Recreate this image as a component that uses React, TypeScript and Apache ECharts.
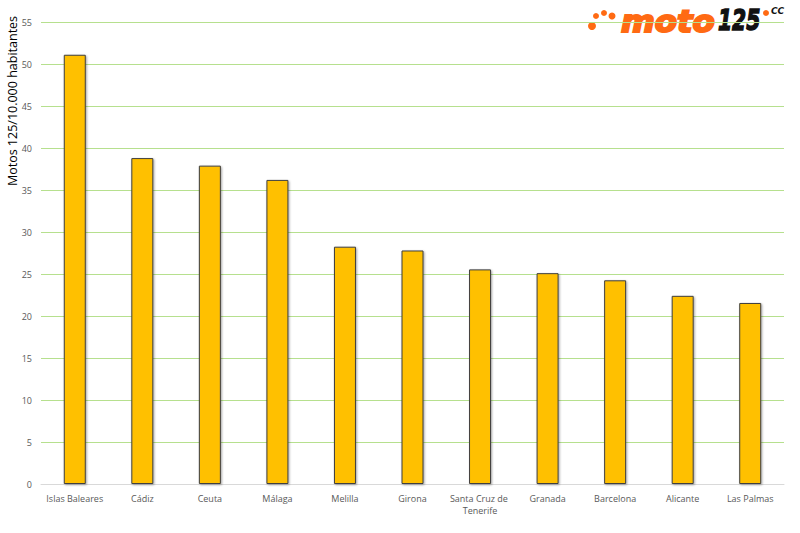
import React, { useEffect, useRef } from "react";
import * as echarts from "echarts";

const categories = [
  "Islas Baleares",
  "Cádiz",
  "Ceuta",
  "Málaga",
  "Melilla",
  "Girona",
  "Santa Cruz de Tenerife",
  "Granada",
  "Barcelona",
  "Alicante",
  "Las Palmas",
];
const values = [51.1, 38.8, 37.9, 36.2, 28.25, 27.8, 25.55, 25.1, 24.25, 22.4, 21.55];
const yTitle = "Motos 125/10.000 habitantes";

export default function App() {
  const ref = useRef<HTMLDivElement>(null);
  useEffect(() => {
    if (!ref.current) return;
    const chart = echarts.init(ref.current, null, { renderer: "svg" });
    const orange = "#FF6A13";
    chart.setOption({
      animation: false,
      backgroundColor: "#ffffff",
      grid: { left: 41, right: 16, top: 22, bottom: 49 },
      xAxis: {
        type: "category",
        data: categories,
        axisLine: { show: true, lineStyle: { color: "#d9d9d9", width: 1 } },
        axisTick: { show: false },
        axisLabel: {
          color: "#595959",
          fontSize: 9,
          fontFamily: "Open Sans",
          margin: 8,
          interval: 0,
          width: 62,
          overflow: "break",
          lineHeight: 12,
        },
      },
      yAxis: {
        type: "value",
        min: 0,
        max: 55,
        interval: 5,
        axisLine: { show: false },
        axisTick: { show: false },
        axisLabel: { color: "#595959", fontSize: 9, fontFamily: "Open Sans", margin: 9 },
        splitLine: { lineStyle: { color: "#b6e08e", width: 1 } },
      },
      series: [
        {
          type: "bar",
          data: values,
          barWidth: 22,
          itemStyle: {
            color: "#FFC000",
            borderColor: "#3f3f3f",
            borderWidth: 1,
            shadowColor: "rgba(0,0,0,0.35)",
            shadowBlur: 2,
            shadowOffsetX: 1,
            shadowOffsetY: 1,
          },
        },
      ],
      graphic: [
        {
          type: "text",
          x: 12,
          y: 101,
          rotation: Math.PI / 2,
          style: {
            text: yTitle,
            fill: "#000",
            fontSize: 12.5,
            fontFamily: "Open Sans",
            align: "center",
            verticalAlign: "middle",
          },
        },
        { type: "circle", shape: { cx: 592, cy: 26, r: 4 }, style: { fill: orange } },
        { type: "circle", shape: { cx: 596, cy: 16, r: 3 }, style: { fill: orange } },
        { type: "circle", shape: { cx: 604, cy: 13, r: 3 }, style: { fill: orange } },
        { type: "circle", shape: { cx: 612, cy: 16, r: 3.5 }, style: { fill: orange } },
        {
          type: "text",
          x: 621,
          y: 21,
          scaleX: 1.08,
          style: {
            text: "moto",
            fill: orange,
            stroke: orange,
            lineWidth: 2,
            fontSize: 30,
            fontWeight: "bold",
            fontStyle: "italic",
            fontFamily: "DejaVu Sans",
            verticalAlign: "middle",
          },
        },
        {
          type: "text",
          x: 718,
          y: 20,
          scaleX: 0.7,
          style: {
            text: "125",
            fill: "#111",
            stroke: "#111",
            lineWidth: 1.5,
            fontSize: 29,
            fontWeight: "bold",
            fontStyle: "italic",
            fontFamily: "DejaVu Sans",
            verticalAlign: "middle",
          },
        },
        { type: "circle", shape: { cx: 766, cy: 13, r: 3 }, style: { fill: orange } },
        {
          type: "text",
          x: 771,
          y: 11,
          style: {
            text: "CC",
            fill: "#111",
            fontSize: 9,
            fontWeight: "bold",
            fontStyle: "italic",
            fontFamily: "DejaVu Sans",
            verticalAlign: "middle",
          },
        },
      ],
    });
    return () => chart.dispose();
  }, []);
  return (
    <div
      ref={ref}
      style={{ position: "absolute", left: 0, top: 0, width: 800, height: 533 }}
    />
  );
}
